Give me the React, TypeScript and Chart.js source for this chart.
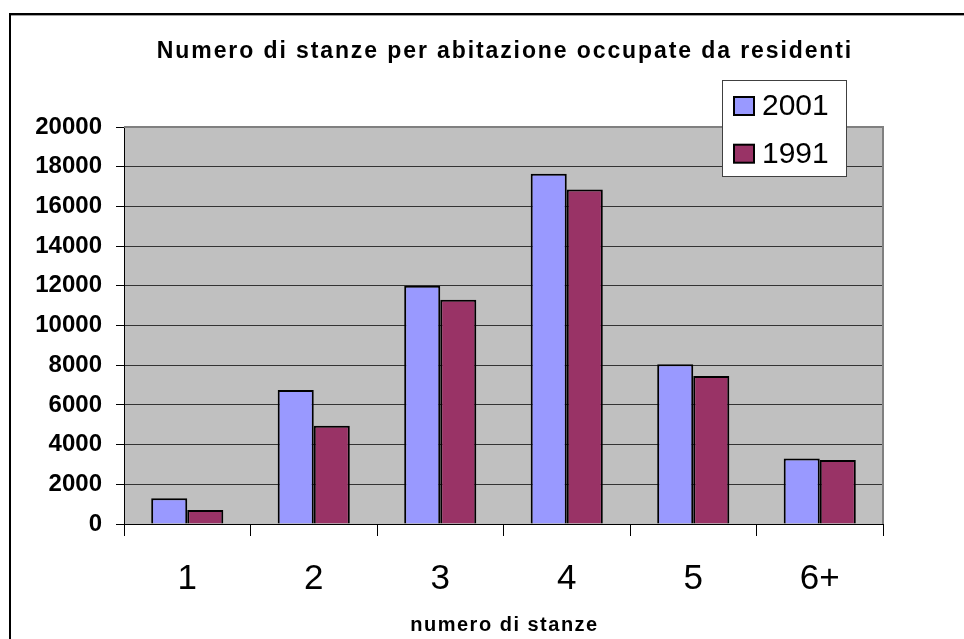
import React, { useEffect, useRef } from "react";
import { Chart, registerables } from "chart.js";

Chart.register(...registerables);

const categories = ["1", "2", "3", "4", "5", "6+"];
const series2001 = [1300, 6750, 12000, 17650, 8050, 3300];
const series1991 = [700, 4950, 11300, 16850, 7450, 3230];
const seriesLabels = ["2001", "1991"];
const seriesColors = ["#9999FF", "#993366"];
const yTicks = [0, 2000, 4000, 6000, 8000, 10000, 12000, 14000, 16000, 18000, 20000];
const chartTitle = "Numero di stanze per abitazione occupate da residenti";
const xAxisTitle = "numero di stanze";

const FONT = "'Liberation Sans', Arial, sans-serif";

const decorPlugin = {
  id: "decor",
  beforeDraw(chart: any) {
    const { ctx, chartArea, width, height } = chart;
    ctx.save();
    ctx.fillStyle = "#ffffff";
    ctx.fillRect(0, 0, width, height);
    // outer frame
    ctx.fillStyle = "#000000";
    ctx.fillRect(9, 13, width - 9, 2);
    ctx.fillRect(9, 13, 2, height - 13);
    ctx.fillStyle = "#a0a0a0";
    ctx.fillRect(11, 15, width - 11, 1);
    // plot background
    ctx.fillStyle = "#C0C0C0";
    ctx.fillRect(chartArea.left, chartArea.top, chartArea.right - chartArea.left, chartArea.bottom - chartArea.top);
    ctx.restore();
  },
  beforeDatasetsDraw(chart: any) {
    const { ctx, chartArea } = chart;
    ctx.save();
    ctx.strokeStyle = "#808080";
    ctx.lineWidth = 2;
    ctx.beginPath();
    ctx.moveTo(chartArea.left, chartArea.top);
    ctx.lineTo(chartArea.right, chartArea.top);
    ctx.lineTo(chartArea.right, chartArea.bottom);
    ctx.stroke();
    ctx.restore();
  },
  afterDraw(chart: any) {
    const { ctx, chartArea } = chart;
    ctx.save();
    // title
    ctx.fillStyle = "#000000";
    ctx.font = `bold 23px ${FONT}`;
    ctx.textAlign = "center";
    ctx.textBaseline = "alphabetic";
    (ctx as any).letterSpacing = "1.9px";
    ctx.fillText(chartTitle, 505, 58);
    // x axis title
    ctx.font = `bold 20px ${FONT}`;
    (ctx as any).letterSpacing = "1.5px";
    ctx.fillText(xAxisTitle, (chartArea.left + chartArea.right) / 2 + 1, 631);
    (ctx as any).letterSpacing = "0px";
    // legend
    const lx = 722, ly = 80, lw = 124, lh = 96;
    ctx.fillStyle = "#ffffff";
    ctx.fillRect(lx, ly, lw, lh);
    ctx.strokeStyle = "#404040";
    ctx.lineWidth = 1;
    ctx.strokeRect(lx + 0.5, ly + 0.5, lw, lh);
    const ds = chart.data.datasets;
    ds.forEach((d: any, i: number) => {
      const base = 115 + i * 47.7;
      ctx.fillStyle = d.backgroundColor;
      ctx.fillRect(734, base - 18, 20, 18);
      ctx.strokeStyle = "#000000";
      ctx.lineWidth = 2;
      ctx.strokeRect(734, base - 18, 20, 18);
      ctx.fillStyle = "#000000";
      ctx.font = `30px ${FONT}`;
      ctx.textAlign = "left";
      ctx.fillText(d.label, 762, base);
    });
    ctx.restore();
  },
};

export default function App() {
  const ref = useRef<HTMLCanvasElement | null>(null);
  useEffect(() => {
    if (!ref.current) return;
    const chart = new Chart(ref.current, {
      type: "bar",
      data: {
        labels: categories,
        datasets: [
          {
            label: seriesLabels[0],
            data: series2001,
            backgroundColor: seriesColors[0],
            borderColor: "#000000",
            borderWidth: 2,
            categoryPercentage: 0.57,
            barPercentage: 1.0,
          },
          {
            label: seriesLabels[1],
            data: series1991,
            backgroundColor: seriesColors[1],
            borderColor: "#000000",
            borderWidth: 2,
            categoryPercentage: 0.57,
            barPercentage: 1.0,
          },
        ],
      },
      options: {
        responsive: false,
        animation: false,
        devicePixelRatio: 1,
        layout: { padding: { left: 0, right: 81, top: 127, bottom: 0 } },
        plugins: {
          legend: { display: false },
          title: { display: false },
          tooltip: { enabled: false },
        },
        scales: {
          x: {
            offset: true,
            grid: {
              offset: true,
              drawOnChartArea: false,
              drawTicks: true,
              tickLength: 12,
              color: "#000000",
              lineWidth: 1,
            },
            border: { display: true, color: "#000000", width: 1 },
            ticks: {
              color: "#000000",
              font: { family: FONT, size: 35 },
              padding: 22,
              maxRotation: 0,
            },
            afterFit(scale: any) {
              scale.height = 115;
            },
          },
          y: {
            min: 0,
            max: 20000,
            afterBuildTicks(scale: any) {
              scale.ticks = yTicks.map((v) => ({ value: v }));
            },
            ticks: {
              color: "#000000",
              font: { family: FONT, size: 24, weight: "bold" },
              padding: 14,
              callback: (v: any) => String(v),
            },
            grid: {
              color: (c: any) => (c.tick && c.tick.value === 20000 ? "#808080" : "#333333"),
              tickColor: "#000000",
              tickLength: 8,
              lineWidth: 1,
            },
            border: { display: true, color: "#000000", width: 1 },
            afterFit(scale: any) {
              scale.width = 124;
            },
          },
        },
      },
      plugins: [decorPlugin],
    });
    return () => chart.destroy();
  }, []);
  return (
    <div style={{ position: "absolute", left: 0, top: 0, width: 964, height: 639 }}>
      <canvas ref={ref} width={964} height={639} style={{ display: "block" }} />
    </div>
  );
}
